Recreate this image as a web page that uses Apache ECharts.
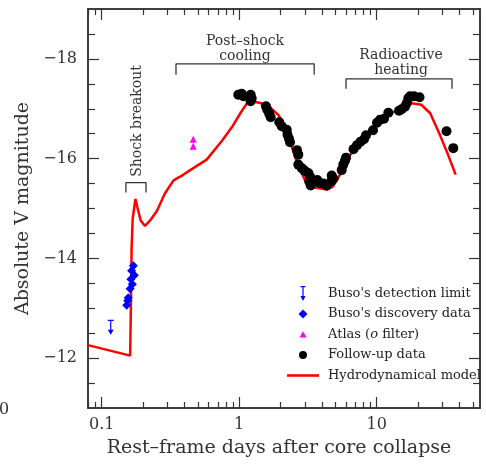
<!DOCTYPE html>
<html><head><meta charset="utf-8">
<script src="https://cdn.jsdelivr.net/npm/echarts@6/dist/echarts.min.js"></script>
<style>html,body{margin:0;padding:0;background:#fff}#c{width:486px;height:465px}</style>
</head><body><div id="c"></div>
<script>
// ---------- data ----------
const xMajorTicks = [0.1, 1, 10];
const xMinorTicks = [0.08, 0.09, 0.2, 0.3, 0.4, 0.5, 0.6, 0.7, 0.8, 0.9, 2, 3, 4, 5, 6, 7, 8, 9, 20, 30, 40, 50];
const yMajorTicks = [-18, -16, -14, -12];
const yMinorTicks = [-18.5, -17.5, -17, -16.5, -15.5, -15, -14.5, -13.5, -13, -12.5, -11.5];

const limitData = [[0.1163, -12.77]];
const discoveryData = [
  [0.170, -13.85], [0.165, -13.75], [0.1726, -13.66], [0.163, -13.58], [0.167, -13.48],
  [0.161, -13.39], [0.156, -13.21], [0.1546, -13.15], [0.152, -13.06]
];
const atlasData = [[0.463, -16.39], [0.463, -16.25]];
const followupData = [
  [0.985, -17.28], [1.042, -17.30], [1.071, -17.25], [1.212, -17.28], [1.233, -17.21], [1.212, -17.15],
  [1.566, -17.05], [1.601, -16.98], [1.655, -16.90], [1.695, -16.83],
  [1.957, -16.73], [2.038, -16.65], [2.216, -16.58], [2.245, -16.48], [2.302, -16.40], [2.342, -16.33],
  [2.633, -16.17], [2.691, -16.08], [2.691, -15.88], [2.848, -15.81], [2.985, -15.76], [3.180, -15.71],
  [3.273, -15.64], [3.235, -15.54], [3.311, -15.46], [3.698, -15.57], [3.837, -15.51], [4.089, -15.50],
  [4.328, -15.46], [4.707, -15.66], [4.851, -15.60], [4.652, -15.54],
  [5.566, -15.77], [5.715, -15.88], [5.883, -15.96], [5.981, -16.02],
  [6.782, -16.19], [7.190, -16.27], [7.624, -16.34], [8.084, -16.39], [8.360, -16.47],
  [9.40, -16.57], [10.05, -16.72], [10.57, -16.78], [11.30, -16.80], [12.15, -16.92],
  [14.53, -16.96], [15.20, -16.99], [16.06, -17.04], [16.53, -17.11], [16.98, -17.21], [17.47, -17.25],
  [18.68, -17.25], [20.48, -17.23], [32.19, -16.55], [36.06, -16.21]
];
const modelData = [
  [0.0795, -12.26], [0.115, -12.15], [0.161, -12.05], [0.163, -13.0], [0.165, -14.2], [0.168, -14.8],
  [0.176, -15.19], [0.182, -15.02], [0.192, -14.76], [0.2065, -14.65], [0.225, -14.76], [0.252, -14.95],
  [0.288, -15.30], [0.332, -15.56], [0.35, -15.60], [0.384, -15.66], [0.44, -15.77], [0.58, -15.98],
  [0.75, -16.36], [0.90, -16.66], [1.03, -16.93], [1.16, -17.14], [1.30, -17.14], [1.59, -17.08],
  [1.92, -16.88], [2.16, -16.64], [2.36, -16.32], [2.63, -15.92], [3.11, -15.48], [3.56, -15.42],
  [4.35, -15.38], [4.8, -15.44], [5.69, -15.78], [6.3, -16.05], [8.0, -16.38], [9.4, -16.58],
  [11.8, -16.85], [15.6, -17.05], [18.0, -17.11], [21.1, -17.08], [24.5, -16.91], [28.8, -16.48],
  [33.0, -16.08], [37.5, -15.68]
];
const bracketShock = [[0.150, -15.32], [0.150, -15.52], [0.21, -15.52], [0.21, -15.32]];
const bracketCooling = [[0.347, -17.68], [0.347, -17.90], [3.51, -17.90], [3.51, -17.68]];
const bracketHeating = [[5.98, -17.40], [5.98, -17.60], [35.3, -17.60], [35.3, -17.40]];

const seriesNames = ["Buso's detection limit", "Buso's discovery data", "Atlas (o filter)", "Follow-up data", "Hydrodynamical model"];

// ---------- chart ----------
const FONT = 'DejaVu Serif';
const AX = '#333';
const X_MIN = 0.0795, X_MAX = 56.4;

function xAxis(pos, ticks, len, labels) {
  return {
    type: 'log', logBase: 10, min: X_MIN, max: X_MAX, position: pos,
    axisLine: { show: true, lineStyle: { color: AX, width: 1.5 } },
    axisTick: { show: true, inside: true, length: len, customValues: ticks, lineStyle: { color: AX, width: 1.2 } },
    axisLabel: { show: labels, customValues: xMajorTicks, margin: 9, fontFamily: FONT, fontSize: 16, color: AX,
      formatter: v => String(v) },
    splitLine: { show: false }, minorTick: { show: false }, minorSplitLine: { show: false },
    name: labels ? 'Rest\u2013frame days after core collapse' : '',
    nameLocation: 'middle', nameGap: 31,
    nameTextStyle: { fontFamily: FONT, fontSize: 19, color: AX, padding: [0, 10, 0, 0] }
  };
}
function yAxis(pos, ticks, len, labels) {
  return {
    type: 'value', min: -19, max: -11, inverse: true, position: pos,
    axisLine: { show: true, lineStyle: { color: AX, width: 1.5 } },
    axisTick: { show: true, inside: true, length: len, customValues: ticks, lineStyle: { color: AX, width: 1.2 } },
    axisLabel: { show: labels, customValues: yMajorTicks, margin: 11, fontFamily: FONT, fontSize: 16, color: AX,
      formatter: v => '\u2212' + Math.abs(v) },
    splitLine: { show: false },
    name: labels ? 'Absolute V magnitude' : '',
    nameLocation: 'middle', nameGap: 49, nameRotate: 90,
    nameTextStyle: { fontFamily: FONT, fontSize: 19, color: AX }
  };
}

const arrowPath = 'path://M0,0 L6,0 L6,1.2 L3.6,1.2 L3.6,10 L6,10 L3,15 L0,10 L2.4,10 L2.4,1.2 L0,1.2 Z';
// legend icons, each inside a fixed 36x15 box (visible part 0..32 wide, symbols centred at 16)
const BOX = 'M0,0 M36,15 ';
const legendIcons = [
  'path://' + BOX + 'M13.5,0 L18.5,0 L18.5,1.2 L16.6,1.2 L16.6,10 L18.6,10 L16,15 L13.4,10 L15.4,10 L15.4,1.2 L13.5,1.2 Z',
  'path://' + BOX + 'M16,3 L20.5,7.5 L16,12 L11.5,7.5 Z',
  'path://' + BOX + 'M16,4.3 L19.5,10.5 L12.5,10.5 Z',
  'path://' + BOX + 'M20,7.5 A4,4 0 1 1 12,7.5 A4,4 0 1 1 20,7.5 Z',
  'path://' + BOX + 'M0,6.2 L32,6.2 L32,8.8 L0,8.8 Z'
];

function bracket(data) {
  return { type: 'line', data: data, symbol: 'none', silent: true, z: 1,
    lineStyle: { color: AX, width: 1.3 }, animation: false };
}

const chart = echarts.init(document.getElementById('c'), null, { renderer: 'canvas' });
chart.setOption({
  animation: false,
  backgroundColor: '#fff',
  grid: { left: 88, right: 6, top: 9, bottom: 57, containLabel: false },
  xAxis: [
    xAxis('bottom', xMajorTicks, 11, true),
    xAxis('bottom', xMinorTicks, 6, false),
    xAxis('top', xMajorTicks, 11, false),
    xAxis('top', xMinorTicks, 6, false)
  ],
  yAxis: [
    yAxis('left', yMajorTicks, 11, true),
    yAxis('left', yMinorTicks, 7, false),
    yAxis('right', yMajorTicks, 11, false),
    yAxis('right', yMinorTicks, 7, false)
  ],
  legend: {
    orient: 'vertical', left: 282, top: 281, itemWidth: 36, itemHeight: 15, itemGap: 5.5,
    selectedMode: false, symbolKeepAspect: true,
    formatter: n => n === 'Atlas (o filter)' ? 'Atlas ({i|o} filter)' : n,
    textStyle: { fontFamily: FONT, fontSize: 13, color: '#222', lineHeight: 14,
      rich: { i: { fontFamily: FONT, fontSize: 13, fontStyle: 'italic', color: '#222', lineHeight: 14 } } },
    data: seriesNames.map((n, i) => ({ name: n, icon: legendIcons[i] }))
  },
  series: [
    { name: seriesNames[4], type: 'line', data: modelData, symbol: 'none', z: 2,
      lineStyle: { color: '#ff0000', width: 2.5 }, itemStyle: { color: '#ff0000' } },
    bracket(bracketShock), bracket(bracketCooling), bracket(bracketHeating),
    { name: seriesNames[0], type: 'scatter', data: limitData, symbol: arrowPath, symbolSize: [6, 15],
      symbolOffset: [0, '50%'], z: 3, itemStyle: { color: '#0000ff', opacity: 1 } },
    { name: seriesNames[1], type: 'scatter', data: discoveryData, symbol: 'diamond', symbolSize: 9, z: 3,
      itemStyle: { color: '#0000ff', opacity: 1 } },
    { name: seriesNames[2], type: 'scatter', data: atlasData, symbol: 'triangle', symbolSize: 7, z: 3,
      itemStyle: { color: '#ff00ff', opacity: 1 } },
    { name: seriesNames[3], type: 'scatter', data: followupData, symbol: 'circle', symbolSize: 10, z: 3,
      itemStyle: { color: '#000', opacity: 1 } }
  ],
  graphic: [
    { type: 'text', x: 245, y: 41, style: { text: 'Post\u2013shock', font: '14px "DejaVu Serif"', fill: AX, align: 'center', verticalAlign: 'middle' } },
    { type: 'text', x: 245, y: 56, style: { text: 'cooling', font: '14px "DejaVu Serif"', fill: AX, align: 'center', verticalAlign: 'middle' } },
    { type: 'text', x: 401, y: 55, style: { text: 'Radioactive', font: '14px "DejaVu Serif"', fill: AX, align: 'center', verticalAlign: 'middle' } },
    { type: 'text', x: 401, y: 70, style: { text: 'heating', font: '14px "DejaVu Serif"', fill: AX, align: 'center', verticalAlign: 'middle' } },
    { type: 'text', x: 137, y: 121, rotation: Math.PI / 2, style: { text: 'Shock breakout', font: '14px "DejaVu Serif"', fill: AX, align: 'center', verticalAlign: 'middle' } },
    { type: 'text', x: 4, y: 410, style: { text: '0', font: '16px "DejaVu Serif"', fill: AX, align: 'center', verticalAlign: 'middle' } }
  ]
});
</script>
</body></html>
